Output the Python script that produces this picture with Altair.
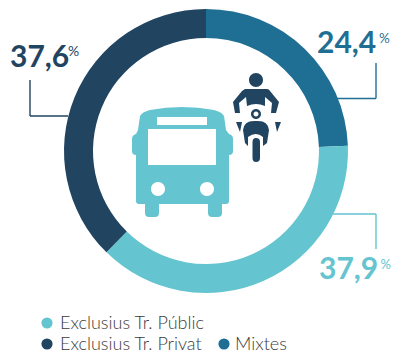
import altair as alt
import pandas as pd

categories = ["Mixtes", "Exclusius Tr. Públic", "Exclusius Tr. Privat"]
values = [24.4, 37.9, 37.6]
colors = ["#1f6f94", "#64c4d0", "#214460"]
labels = ["24,4", "37,9", "37,6"]
TEXT = "#3a3a3a"
FONT = "Lato"
OX, OY = 8, 8


def px(v):
    return alt.value(v - OX)


def py(v):
    return alt.value(v - OY)


base = alt.Chart(pd.DataFrame({"a": [1]}))

df = pd.DataFrame({"cat": categories, "value": values, "idx": [0, 1, 2]})
ring = alt.Chart(df).mark_arc(radius=142, radius2=113).encode(
    theta=alt.Theta("value:Q", stack=True),
    order=alt.Order("idx:Q"),
    color=alt.Color("cat:N", scale=alt.Scale(domain=categories, range=colors), legend=None),
    x=px(206),
    y=py(151),
)

layers = [ring]


def rule(x1, y1, x2, y2, c):
    return base.mark_rule(color=c, strokeWidth=1.4).encode(x=px(x1), x2=px(x2), y=py(y1), y2=py(y2))


layers += [
    rule(336, 98.5, 376, 98.5, colors[0]),
    rule(376, 63, 376, 98.5, colors[0]),
    rule(333, 214, 376, 214, colors[1]),
    rule(376, 214, 376, 249, colors[1]),
    rule(30, 116, 68, 116, colors[2]),
    rule(30, 80, 30, 116, colors[2]),
]


def text(s, x, y, size, c, weight=400, align="left"):
    return base.mark_text(text=s, font=FONT, fontSize=size, fontWeight=weight, color=c,
                          align=align, baseline="alphabetic").encode(x=px(x), y=py(y))


layers += [
    text(labels[0], 317, 53, 30, colors[0], 700),
    text("%", 379, 43, 13.5, colors[0]),
    text(labels[1], 319, 279, 30, colors[1], 700),
    text("%", 380.5, 269, 13, colors[1]),
    text(labels[2], 10, 67, 30, colors[2], 700),
    text("%", 68, 56, 14, colors[2]),
    text(categories[1], 60, 329, 18, TEXT, 300),
    text(categories[2], 60, 350, 18, TEXT, 300),
    text(categories[0], 235, 350, 18, TEXT, 300),
]

for x, y, c in [(47, 323, colors[1]), (47, 344, colors[2]), (224, 344, colors[0])]:
    layers.append(base.mark_circle(size=125, color=c, opacity=1).encode(x=px(x), y=py(y)))


def icon(path, c):
    # size 4 makes one unit of the path one pixel; the path is in page pixels
    return base.mark_point(shape=path, size=4, filled=True, fill=c, opacity=1, stroke=None).encode(
        x=alt.value(-OX), y=alt.value(-OY))


BUS = ("M140 116 Q142 112 150 110 Q182 104 214 110 Q222 112 224 116 L226 130 L229 134 "
       "Q233 135 233 139 L233 151 Q233 155 229 155 L229 201 Q229 204 226 204 L222 204 L222 213 "
       "Q222 217 218 217 L212 217 Q208 217 208 213 L208 204 L159 204 L159 213 Q159 217 155 217 "
       "L149 217 Q145 217 145 213 L145 204 L139 204 Q136 204 136 201 L136 155 Q132 155 132 151 "
       "L132 139 Q132 135 136 134 L138 130 Z")
BUS_HOLES = ("M157 117 H207 V125 H157 Z M148 129 H216 V165 H148 Z "
             "M151 189 A7 7 0 1 0 165 189 A7 7 0 1 0 151 189 Z "
             "M200 189 A7 7 0 1 0 214 189 A7 7 0 1 0 200 189 Z")
RIDER = ("M249 80 A7 7 0 1 0 263 80 A7 7 0 1 0 249 80 Z "
         "M245 89 L267 89 Q269 89 270 91 L279 102 L276 113 L271 113 L272 103 L265 97 L265 106 "
         "Q256 102 247 106 L246 97 L239 103 L240 113 L235 113 L233 102 L242 91 Z "
         "M251 114 A5 5 0 1 0 261 114 A5 5 0 1 0 251 114 Z "
         "M256 121 Q268 120 269 130 L267 143 L263 146 L263 137 Q256 131 248 137 L248 146 L245 143 L243 130 Q244 120 256 121 Z "
         "M252.5 142 Q252.5 138 256 138 Q260 138 260 142 L260 158 Q260 162 256 162 Q252.5 162 252.5 158 Z "
         "M236 122 L242 122 L240 132 Z M275 122 L281 122 L277 132 Z")
HEAD_HOLE = "M253.5 114 A2.5 2.5 0 1 0 258.5 114 A2.5 2.5 0 1 0 253.5 114 Z"

layers += [icon(BUS, colors[1]), icon(BUS_HOLES, "#ffffff"), icon(RIDER, colors[2]), icon(HEAD_HOLE, "#ffffff")]

chart = alt.layer(*layers).properties(
    width=383, height=347, padding=0, autosize=alt.AutoSizeParams(type="none"),
    background="#ffffff",
).configure_view(stroke=None)

chart.save("out.html", embed_options={"renderer": "svg", "actions": False})
